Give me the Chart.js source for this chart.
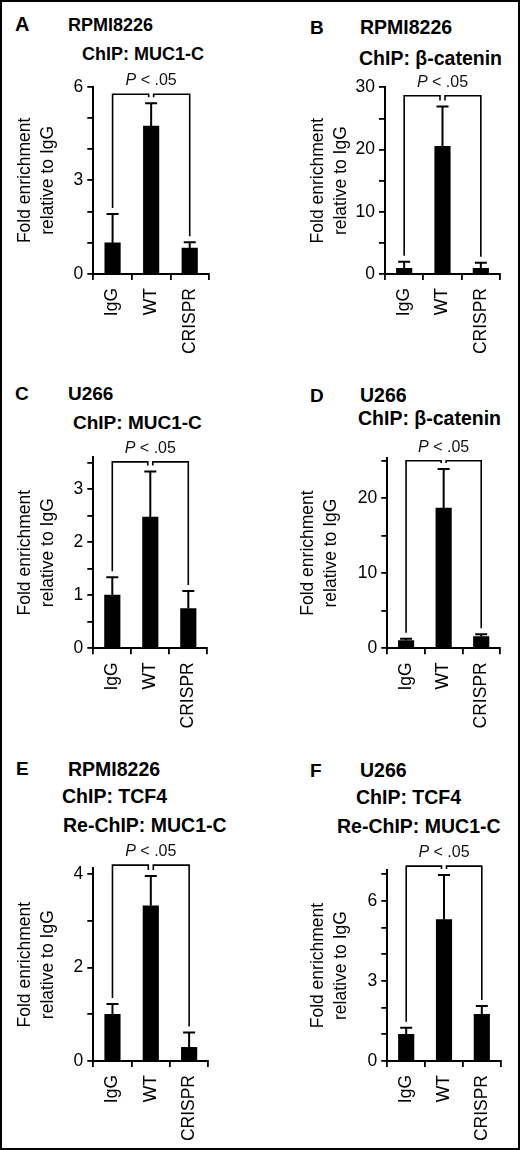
<!DOCTYPE html>
<html lang="en">
<head>
    <meta charset="UTF-8">
    <title>MUC1-C / β-catenin / TCF4 ChIP - fold enrichment</title>
    <script src="https://cdn.jsdelivr.net/npm/chart.js@4"></script>
    <style>
        body {
            margin: 0;
            background-color: #ffffff;
            font-family: 'Liberation Sans', Arial, sans-serif;
            color: #000;
        }

        .figure {
            position: relative;
            width: 520px;
            height: 1150px;
            overflow: hidden;
            background: #fff;
        }

        .frame {
            position: absolute;
            left: 0;
            top: 0;
            width: 520px;
            height: 1150px;
            border: 2px solid #000;
            box-sizing: border-box;
            pointer-events: none;
        }

        .figure canvas {
            position: absolute;
        }

        .t {
            position: absolute;
            font-weight: bold;
            line-height: 1;
            white-space: nowrap;
        }
    </style>
</head>
<body>
<div class="figure" id="figure">
    <div class="t" style="left:15px;top:14px;font-size:20px">A</div>
    <div class="t" style="left:68px;top:16px;font-size:18px">RPMI8226</div>
    <div class="t" style="left:82px;top:45px;font-size:18px">ChIP: MUC1-C</div>

    <div class="t" style="left:310px;top:18px;font-size:19px">B</div>
    <div class="t" style="left:360px;top:17.5px;font-size:19.5px">RPMI8226</div>
    <div class="t" style="left:359px;top:48.5px;font-size:19.5px">ChIP: β-catenin</div>

    <div class="t" style="left:15px;top:384px;font-size:19px">C</div>
    <div class="t" style="left:68px;top:383.5px;font-size:19px">U266</div>
    <div class="t" style="left:73px;top:412.5px;font-size:19px">ChIP: MUC1-C</div>

    <div class="t" style="left:310px;top:385.5px;font-size:19px">D</div>
    <div class="t" style="left:360px;top:385.5px;font-size:19.5px">U266</div>
    <div class="t" style="left:358px;top:409px;font-size:19.5px">ChIP: β-catenin</div>

    <div class="t" style="left:16px;top:759px;font-size:19px">E</div>
    <div class="t" style="left:68px;top:759.5px;font-size:19.5px">RPMI8226</div>
    <div class="t" style="left:62px;top:786.5px;font-size:19.5px">ChIP: TCF4</div>
    <div class="t" style="left:63px;top:815.5px;font-size:19.5px">Re-ChIP: MUC1-C</div>

    <div class="t" style="left:310px;top:760.5px;font-size:19px">F</div>
    <div class="t" style="left:360px;top:760.5px;font-size:19.5px">U266</div>
    <div class="t" style="left:356px;top:787.5px;font-size:19.5px">ChIP: TCF4</div>
    <div class="t" style="left:337px;top:817px;font-size:19.5px">Re-ChIP: MUC1-C</div>

    <div class="frame"></div>
</div>

<script>
    // ---- data ----
    const categories = ['IgG', 'WT', 'CRISPR'];

    // A  RPMI8226, ChIP: MUC1-C
    const meanA = [1.0, 4.74, 0.83];
    const errA = [0.92, 0.73, 0.19];
    const ticksA = [0, 1, 2, 3, 4, 5, 6];
    const labelsA = [0, 3, 6];

    // B  RPMI8226, ChIP: beta-catenin
    const meanB = [0.9, 20.5, 0.9];
    const errB = [1.05, 6.4, 0.9];
    const ticksB = [0, 5, 10, 15, 20, 25, 30];
    const labelsB = [0, 10, 20, 30];

    // C  U266, ChIP: MUC1-C
    const meanC = [1.0, 2.47, 0.75];
    const errC = [0.34, 0.86, 0.33];
    const ticksC = [0, 0.5, 1, 1.5, 2, 2.5, 3, 3.5];
    const labelsC = [0, 1, 2, 3];

    // D  U266, ChIP: beta-catenin
    const meanD = [1.03, 18.7, 1.57];
    const errD = [0.23, 5.2, 0.32];
    const ticksD = [0, 5, 10, 15, 20, 25];
    const labelsD = [0, 10, 20];

    // E  RPMI8226, ChIP: TCF4 / Re-ChIP: MUC1-C
    const meanE = [1.0, 3.32, 0.29];
    const errE = [0.22, 0.64, 0.32];
    const ticksE = [0, 1, 2, 3, 4];
    const labelsE = [0, 2, 4];

    // F  U266, ChIP: TCF4 / Re-ChIP: MUC1-C
    const meanF = [1.0, 5.3, 1.75];
    const errF = [0.25, 1.67, 0.31];
    const ticksF = [0, 1, 2, 3, 4, 5, 6, 7];
    const labelsF = [0, 3, 6];

    // axis tops and significance bracket heights (data units)
    const axisMax = [6, 30, 3.6, 25.4, 4.12, 7.15];
    const bracketAt = [5.76, 28.65, 3.51, 25, 4.19, 7.3];
    const sigText = 'P < .05';
    const yTitle = ['Fold enrichment', 'relative to IgG'];

    // ---- where each panel sits (pixels) ----
    // left/top of the canvas, its height, plot area L/R/T/B and the x of the first y-title line
    const boxes = [
        { left: 0,   top: 0,   h: 380, L: 93.3,  R: 209,   T: 86.7,  B: 274,   tx: 25 },
        { left: 260, top: 0,   h: 380, L: 125,   R: 240,   T: 87.3,  B: 274,   tx: 58.3 },
        { left: 0,   top: 380, h: 380, L: 93.3,  R: 207.3, T: 77.1,  B: 268.3, tx: 25 },
        { left: 260, top: 380, h: 380, L: 127.3, R: 240,   T: 77.8,  B: 268.3, tx: 48.3 },
        { left: 0,   top: 760, h: 390, L: 93.3,  R: 208.3, T: 108.4, B: 301,   tx: 25 },
        { left: 260, top: 760, h: 390, L: 127.3, R: 240.7, T: 110.1, B: 301,   tx: 58.3 }
    ];

    const means = [meanA, meanB, meanC, meanD, meanE, meanF];
    const errs = [errA, errB, errC, errD, errE, errF];
    const tickSets = [ticksA, ticksB, ticksC, ticksD, ticksE, ticksF];
    const labelSets = [labelsA, labelsB, labelsC, labelsD, labelsE, labelsF];

    const FONT = "'Liberation Sans', Arial, sans-serif";
    const AXIS_FONT = 17.5;
    const TITLE_LH = 23.3;
    const XAXIS_H = 80;
    const PANEL_W = 260;

    Chart.defaults.font.family = FONT;
    Chart.defaults.color = '#000';

    // error bars (upper whisker only) + the double bracket with "P < .05"
    const sigMarks = {
        id: 'sigMarks',
        afterDatasetsDraw(chart, args, opts) {
            const ctx = chart.ctx;
            const y = chart.scales.y;
            const meta = chart.getDatasetMeta(0);
            const data = chart.data.datasets[0].data;
            const err = opts.err;

            ctx.save();
            ctx.strokeStyle = '#000';
            ctx.lineWidth = 2;
            const tops = [];
            meta.data.forEach((bar, i) => {
                const top = y.getPixelForValue(data[i] + err[i]);
                tops.push(top);
                ctx.beginPath();
                ctx.moveTo(bar.x, bar.y);
                ctx.lineTo(bar.x, top);
                ctx.moveTo(bar.x - 6, top);
                ctx.lineTo(bar.x + 6, top);
                ctx.stroke();
            });

            const xs = meta.data.map(b => b.x);
            const by = y.getPixelForValue(opts.bracket);
            const gap = 6;
            ctx.lineWidth = 1.6;
            ctx.beginPath();
            ctx.moveTo(xs[0], tops[0] - gap);
            ctx.lineTo(xs[0], by);
            ctx.lineTo(xs[1] - 2.5, by);
            ctx.lineTo(xs[1] - 2.5, tops[1] - gap);
            ctx.moveTo(xs[1] + 2.5, tops[1] - gap);
            ctx.lineTo(xs[1] + 2.5, by);
            ctx.lineTo(xs[2], by);
            ctx.lineTo(xs[2], tops[2] - gap);
            ctx.stroke();

            // "P" in italics, the rest upright
            const first = sigText.slice(0, 1);
            const rest = sigText.slice(1);
            ctx.fillStyle = '#111';
            ctx.textBaseline = 'alphabetic';
            ctx.textAlign = 'left';
            ctx.font = 'italic 16px ' + FONT;
            const w1 = ctx.measureText(first).width;
            ctx.font = '16px ' + FONT;
            const w2 = ctx.measureText(rest).width;
            const x0 = xs[1] - (w1 + w2) / 2;
            ctx.font = 'italic 16px ' + FONT;
            ctx.fillText(first, x0, by - 9);
            ctx.font = '16px ' + FONT;
            ctx.fillText(rest, x0 + w1, by - 9);
            ctx.restore();
        }
    };

    const figure = document.getElementById('figure');

    boxes.forEach((box, p) => {
        const canvas = document.createElement('canvas');
        canvas.width = PANEL_W;
        canvas.height = box.h;
        canvas.style.left = box.left + 'px';
        canvas.style.top = box.top + 'px';
        canvas.style.width = PANEL_W + 'px';
        canvas.style.height = box.h + 'px';
        figure.insertBefore(canvas, figure.querySelector('.frame'));

        const padLeft = box.tx - TITLE_LH / 2;
        const yWidth = box.L - padLeft;
        const tickVals = tickSets[p];
        const labelVals = labelSets[p];

        new Chart(canvas.getContext('2d'), {
            type: 'bar',
            data: {
                labels: categories,
                datasets: [{
                    data: means[p],
                    backgroundColor: '#000',
                    borderWidth: 0,
                    barThickness: 15.5
                }]
            },
            options: {
                responsive: false,
                animation: false,
                events: [],
                layout: {
                    padding: {
                        left: padLeft,
                        top: box.T,
                        right: PANEL_W - box.R,
                        bottom: box.h - box.B - XAXIS_H
                    }
                },
                scales: {
                    x: {
                        offset: true,
                        afterFit(scale) { scale.height = XAXIS_H; },
                        grid: {
                            offset: true,
                            drawOnChartArea: false,
                            drawTicks: true,
                            tickLength: 6,
                            color: '#000',
                            lineWidth: 1.8
                        },
                        border: { display: true, color: '#000', width: 2 },
                        ticks: {
                            autoSkip: false,
                            minRotation: 90,
                            maxRotation: 90,
                            padding: 8,
                            color: '#000',
                            font: { size: AXIS_FONT }
                        }
                    },
                    y: {
                        min: 0,
                        max: axisMax[p],
                        afterFit(scale) { scale.width = yWidth; },
                        afterBuildTicks(scale) {
                            scale.ticks = tickVals.map(v => ({ value: v }));
                        },
                        grid: {
                            drawOnChartArea: false,
                            drawTicks: true,
                            tickLength: 6,
                            color: '#000',
                            lineWidth: 1.8
                        },
                        border: { display: true, color: '#000', width: 2 },
                        ticks: {
                            padding: 4,
                            color: '#000',
                            font: { size: AXIS_FONT },
                            callback: (value) => labelVals.includes(value) ? String(value) : ''
                        },
                        title: {
                            display: true,
                            text: yTitle,
                            color: '#000',
                            padding: 0,
                            font: { size: AXIS_FONT, lineHeight: TITLE_LH / AXIS_FONT }
                        }
                    }
                },
                plugins: {
                    legend: { display: false },
                    tooltip: { enabled: false },
                    sigMarks: { err: errs[p], bracket: bracketAt[p] }
                }
            },
            plugins: [sigMarks]
        });
    });
</script>
</body>
</html>
